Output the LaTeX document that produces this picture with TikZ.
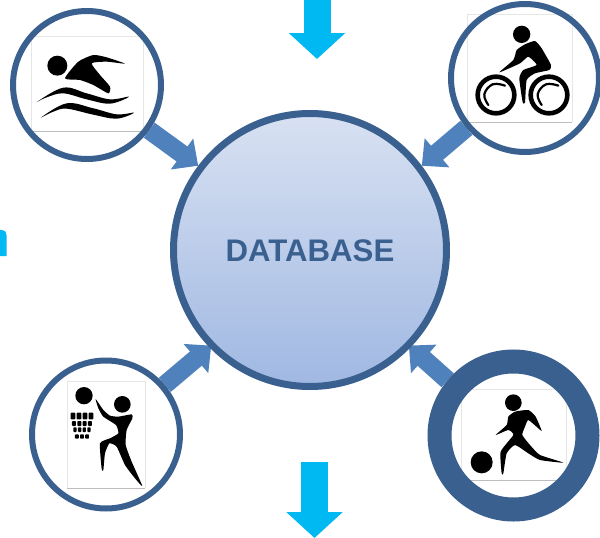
\documentclass[tikz,border=0pt]{standalone}
\usepackage{fontspec}
\setmainfont{Liberation Sans}
\usetikzlibrary{arrows.meta}
\pgfdeclarelayer{under}
\pgfsetlayers{under,main}
\definecolor{ringblue}{HTML}{3A6090}
\definecolor{arrowblue}{HTML}{4F81BD}
\definecolor{cyanarrow}{HTML}{00B9F2}
\definecolor{framegrey}{HTML}{E6E6E6}
\definecolor{framedark}{HTML}{BDBDBD}
\definecolor{gradtop}{HTML}{D8E1F2}
\definecolor{gradbot}{HTML}{A0B8E2}
\tikzset{
  x=1pt,y=-1pt,
  hub/.style={circle,draw=ringblue,line width=7pt,minimum size=273pt,inner sep=0pt,top color=gradtop,bottom color=gradbot,shading angle=0},
  sportbase/.style={circle,fill=white,line width=6pt,minimum size=148pt,inner sep=0pt},
  sportring/.style={circle,draw=ringblue,line width=6pt,minimum size=148pt,inner sep=0pt},
  sportbasethick/.style={circle,fill=white,line width=24pt,minimum size=148pt,inner sep=0pt},
  sportringthick/.style={circle,draw=ringblue,line width=24pt,minimum size=148pt,inner sep=0pt},
  feed/.style={draw=arrowblue,line width=18.5pt,-{Triangle[length=20pt,width=37pt,fill=arrowblue]}},
  flow/.style={draw=cyanarrow,line width=27pt,-{Triangle[length=26pt,width=55pt,fill=cyanarrow]}},
  imgframe/.style={draw=framegrey,line width=.6pt},
  imgbase/.style={draw=framedark,line width=.7pt},
  icon/.style={fill=black,draw=none},
  iconline/.style={draw=black,fill=none,line cap=round},
  label/.style={font=\bfseries\fontsize{31.2}{34}\selectfont,text=ringblue}
}
\begin{document}
\begin{tikzpicture}
\useasboundingbox (0,0) rectangle (600,538);

% circles
\node[sportbase] (swim) at (87,85) {};
\node[sportbase] (bike) at (525,78) {};
\node[sportbase] (ball) at (106,434.5) {};
\node[sportbasethick] (kick) at (513.5,435.5) {};
\node[hub] (db) at (310,250) {};
\node[label] (dbtext) at (310,251) {DATABASE};

% connectors, below the hub and the rings
\begin{pgfonlayer}{under}
\fill[white] (0,0) rectangle (600,538);
\draw[feed] (swim) -- (db.143);
\draw[feed] (bike) -- (db.37);
\draw[feed,shorten >=-2.5pt] (ball) -- (db.-136.5);
\draw[feed,shorten >=-2.5pt] (kick.140) -- (db.-44.6);
\end{pgfonlayer}

% cyan arrows
\coordinate (topstart) at (317,-2);
\coordinate (topend) at (317,59);
\coordinate (botstart) at (314.5,462);
\coordinate (botend) at (314.5,538);
\draw[flow] (topstart) -- (topend);
\draw[flow] (botstart) -- (botend);
\fill[cyanarrow] (0,230) -- (2,230) .. controls (5,230) and (6.5,232) .. (6.5,235) -- (6.5,256) -- (0,256) -- cycle;

% picture frames
\draw[imgframe] (31,131) -- (31,36) -- (143,36) -- (143,131);
\draw[imgbase] (31,131) -- (143,131);
\draw[imgframe] (467,122) -- (467,14) -- (572,14) -- (572,122);
\draw[imgbase] (467,122) -- (572,122);
\draw[imgframe] (67,488) -- (67,381) -- (145,381) -- (145,488);
\draw[imgbase] (67,488) -- (145,488);
\draw[imgframe] (461,480) -- (461,389) -- (566,389) -- (566,480);
\draw[imgbase] (461,480) -- (566,480);

% rings over the frames
\node[sportring] (swimring) at (swim) {};
\node[sportring] (bikering) at (bike) {};
\node[sportring] (ballring) at (ball) {};
\node[sportringthick] (kickring) at (kick) {};

% swimmer
\begin{scope}[scale=1/3]
\fill[icon] (172,197) circle (30);
\fill[icon] plot[smooth cycle,tension=.35] coordinates {(195,235) (235,185) (280,165) (320,172) (375,191) (320,185) (275,190) (300,225) (330,260) (325,280) (280,255) (240,240)};
\fill[icon] plot[smooth cycle,tension=.6] coordinates {(110,306) (190,263) (260,280) (330,298) (387,290) (330,311) (260,298) (190,280) (140,292)};
\fill[icon] plot[smooth cycle,tension=.6] coordinates {(122,353) (200,310) (280,325) (350,343) (402,338) (350,356) (280,344) (200,326) (160,335)};
\end{scope}

% cyclist
\begin{scope}[shift={(470,15)},scale=1/3]
\fill[icon] (155,58) circle (26);
\fill[icon] plot[smooth cycle,tension=.3] coordinates {(140,105) (165,88) (195,78) (215,100) (243,150) (238,165) (195,175) (170,195) (165,262) (158,262) (148,190) (160,165) (200,150) (175,125) (150,145) (88,172) (130,135)};
\draw[iconline,line width=4.6pt] (78,240) circle (55);
\draw[iconline,line width=4.6pt] (237,240) circle (55);
\draw[iconline,line width=2.2pt] plot[smooth,tension=.7] coordinates {(105,212) (68,208) (43,238) (55,270)};
\draw[iconline,line width=2.2pt] plot[smooth,tension=.7] coordinates {(265,212) (228,208) (203,238) (215,270)};
\end{scope}

% basketball
\begin{scope}[shift={(20,340)},scale=1/3]
\foreach \ya/\yb/\xl/\xr/\cnt in {218/238/152/220/4,243/258/156/216/4,262/276/160/212/4,283/296/165/207/3}{
  \pgfmathsetmacro{\cw}{(\xr-\xl-(\cnt-1)*4)/\cnt}
  \pgfmathtruncatemacro{\last}{\cnt-1}
  \foreach \i in {0,...,\last}{
    \pgfmathsetmacro{\xa}{\xl+\i*(\cw+4)}
    \pgfmathsetmacro{\xb}{\xa+\cw}
    \fill[icon,rounded corners=.8pt] (\xa,\ya) rectangle (\xb,\yb);
  }
}
\end{scope}
\begin{scope}[shift={(60,375)},scale=1/3]
\fill[icon] (72,62) circle (26);
\fill[icon] (187,88) circle (25);
\fill[icon] plot[smooth cycle,tension=.3] coordinates {(107,72) (130,105) (150,122) (175,125) (215,118) (217,130) (200,165) (197,210) (215,260) (247,333) (225,310) (195,270) (170,215) (148,205) (135,235) (130,285) (125,282) (120,205) (150,190) (175,175) (168,150) (130,125) (115,100)};
\end{scope}

% footballer
\begin{scope}[shift={(465,385)},scale=1/3]
\fill[icon] (145,53) circle (25);
\fill[icon] (50,232) circle (33);
\fill[icon] plot[smooth cycle,tension=.3] coordinates {(130,95) (150,80) (190,75) (212,95) (230,137) (220,130) (190,105) (180,125) (172,150) (195,180) (225,210) (295,233) (225,225) (190,205) (150,180) (125,205) (115,265) (110,265) (107,200) (145,150) (130,135) (92,150) (125,120)};
\end{scope}
\end{tikzpicture}
\end{document}
